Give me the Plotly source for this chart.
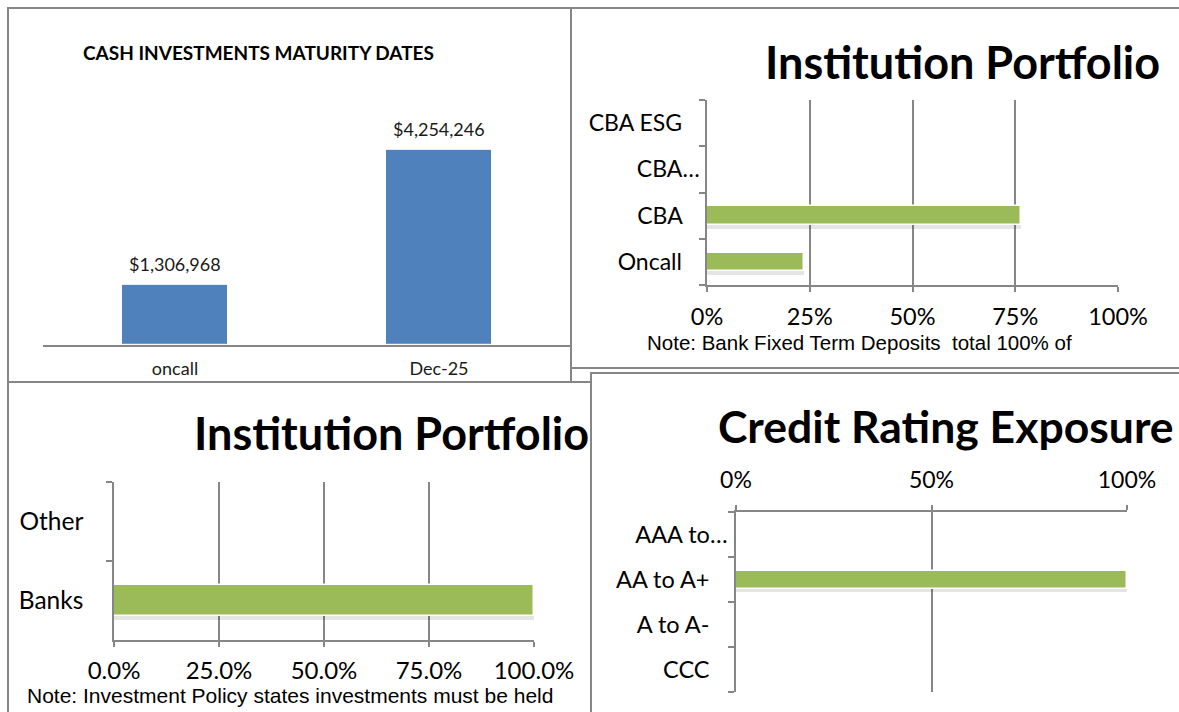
import plotly.graph_objects as go

W, H = 1179, 712

# ---------------- data ----------------
# Panel 1: cash investments maturity dates
mat_categories = ["oncall", "Dec-25"]
mat_values = [1306968, 4254246]

# Panel 2: institution portfolio (share of total)
inst_categories = ["Oncall", "CBA", "CBA…", "CBA ESG"]
inst_values = [0.235, 0.765, 0.0, 0.0]
inst_tickvals = [0, 0.25, 0.5, 0.75, 1.0]
inst_ticktext = ["0%", "25%", "50%", "75%", "100%"]

# Panel 3: institution type portfolio
type_categories = ["Banks", "Other"]
type_values = [1.0, 0.0]
type_tickvals = [0, 0.25, 0.5, 0.75, 1.0]
type_ticktext = ["0.0%", "25.0%", "50.0%", "75.0%", "100.0%"]

# Panel 4: credit rating exposure
credit_categories = ["AAA to…", "AA to A+", "A to A-", "CCC"]
credit_values = [0.0, 1.0, 0.0, 0.0]
credit_tickvals = [0, 0.5, 1.0]
credit_ticktext = ["0%", "50%", "100%"]

# ---------------- helpers ----------------
def fx(p):
    return p / W

def fy(p):
    return 1 - p / H

GRAY = "#868686"
BLUE = "#4F81BD"
GREEN = "#9BBB59"
SHADOW = "rgba(0,0,0,0.10)"
FONT = "Lato"

fig = go.Figure()

# Panel 1 bars
fig.add_trace(go.Bar(
    x=mat_categories, y=mat_values, width=0.4,
    marker=dict(color=BLUE, line=dict(color="white", width=1)),
    xaxis="x", yaxis="y", hoverinfo="skip"))

def hbars(cats, vals, xa, ya, shadow_offset):
    # soft drop shadow (same data, slightly shifted), then the bar itself
    fig.add_trace(go.Bar(
        y=cats, x=vals, orientation="h", width=0.4, offset=shadow_offset,
        marker=dict(color=SHADOW, line=dict(width=0)),
        xaxis=xa, yaxis=ya, hoverinfo="skip"))
    fig.add_trace(go.Bar(
        y=cats, x=vals, orientation="h", width=0.4, offset=-0.2,
        marker=dict(color=GREEN, line=dict(color="white", width=1.5)),
        xaxis=xa, yaxis=ya, hoverinfo="skip"))

hbars(inst_categories, inst_values, "x2", "y2", -0.28)
hbars(type_categories, type_values, "x3", "y3", -0.25)
hbars(credit_categories, credit_values, "x4", "y4", -0.12)


def pct_xaxis(dom, anchor, tickvals, ticktext, side="bottom", size=20, standoff=6):
    return dict(domain=[fx(dom[0]), fx(dom[1])], anchor=anchor, range=[0, 1],
                tickmode="array", tickvals=tickvals, ticktext=ticktext,
                showgrid=True, gridcolor=GRAY, gridwidth=1.5,
                showline=True, linecolor=GRAY, linewidth=1.5,
                ticks="outside", ticklen=5, tickcolor=GRAY, tickwidth=1.5,
                zeroline=False, side=side, fixedrange=True, automargin=False,
                tickfont=dict(family=FONT, size=size, color="#000000"),
                ticklabelstandoff=standoff)

def cat_yaxis(dom, anchor, cats, rng, size=20, standoff=16, pad=0):
    # Excel pushes truncated ("…") labels closer to the axis than the others
    labels = [c if c.endswith("…") else c + "\u00a0" * pad for c in cats]
    return dict(domain=[fy(dom[1]), fy(dom[0])], anchor=anchor,
                type="category", categoryorder="array", categoryarray=cats,
                tickmode="array", tickvals=cats, ticktext=labels,
                range=rng, tickson="boundaries",
                ticks="outside", ticklen=6, tickcolor=GRAY, tickwidth=1.5,
                showline=True, linecolor=GRAY, linewidth=1.5,
                showgrid=False, zeroline=False, fixedrange=True, automargin=False,
                tickfont=dict(family=FONT, size=size, color="#000000"),
                ticklabelstandoff=standoff)

fig.update_layout(
    template="none",
    width=W, height=H,
    margin=dict(l=0, r=0, t=0, b=0, pad=0, autoexpand=False),
    paper_bgcolor="white", plot_bgcolor="rgba(0,0,0,0)",
    showlegend=False, bargap=0, barmode="overlay",
    # panel 1
    xaxis=dict(domain=[fx(43), fx(571)], anchor="y", type="category",
               showline=True, linecolor=GRAY, linewidth=1.5, ticks="",
               showgrid=False, zeroline=False, fixedrange=True, automargin=False,
               tickfont=dict(family=FONT, size=18, color="#1a1a1a"),
               ticklabelstandoff=7),
    yaxis=dict(domain=[fy(345), fy(115.8)], anchor="x", range=[0, 5000000],
               visible=False, fixedrange=True, automargin=False),
    # panel 2
    xaxis2=pct_xaxis((707, 1118), "y2", inst_tickvals, inst_ticktext, size=23.5, standoff=5),
    yaxis2=cat_yaxis((100, 285), "x2", inst_categories, [-0.5, 3.5], size=23, standoff=1, pad=3),
    # panel 3
    xaxis3=pct_xaxis((114, 534), "y3", type_tickvals, type_ticktext, size=24, standoff=3),
    yaxis3=cat_yaxis((482, 640), "x3", type_categories, [-0.5, 1.5], size=24.5, standoff=24),
    # panel 4
    xaxis4=pct_xaxis((736, 1127), "y4", credit_tickvals, credit_ticktext, side="top", size=23, standoff=8),
    yaxis4=cat_yaxis((512, 692), "x4", credit_categories, [3.5, -0.5], size=23.5, standoff=2, pad=3),
)

# value labels on panel 1 bars (from the data)
for c, v in zip(mat_categories, mat_values):
    fig.add_annotation(x=c, y=v, xref="x", yref="y", text=f"${v:,.0f}",
                       showarrow=False, yanchor="bottom", yshift=8,
                       font=dict(family=FONT, size=18, color="#1a1a1a"))

# titles and notes
def txt(text, x, y, size, bold=False, family=FONT, xanchor="center"):
    fig.add_annotation(x=fx(x), y=fy(y), xref="paper", yref="paper",
                       text=f"<b>{text}</b>" if bold else text, showarrow=False,
                       xanchor=xanchor, yanchor="middle",
                       font=dict(family=family, size=size, color="#000000"))

txt("CASH INVESTMENTS MATURITY DATES", 258, 53, 19, bold=True)
txt("Institution Portfolio", 962, 62, 45, bold=True)
txt("Note: Bank Fixed Term Deposits  total 100% of", 859, 342, 20.5, family="Liberation Sans")
txt("Institution Portfolio", 392, 433, 45, bold=True)
txt("Note: Investment Policy states investments must be held", 290, 695, 21, family="Liberation Sans")
txt("Credit Rating Exposure", 946, 425, 44.5, bold=True)

# panel borders
def box(x0, y0, x1, y1):
    fig.add_shape(type="rect", xref="paper", yref="paper",
                  x0=fx(x0), x1=fx(x1), y0=fy(y1), y1=fy(y0),
                  line=dict(color=GRAY, width=2), fillcolor="rgba(0,0,0,0)",
                  layer="below")

box(8, 8, 571, 382)
box(571, 8, 1200, 368)
box(8, 382, 591, 730)
box(591, 373, 1200, 730)

# the page is photographed from its top-left corner: drop the default body margin
fig.write_html("out.html", config={"displayModeBar": False},
               post_script="document.body.style.margin='0';")
